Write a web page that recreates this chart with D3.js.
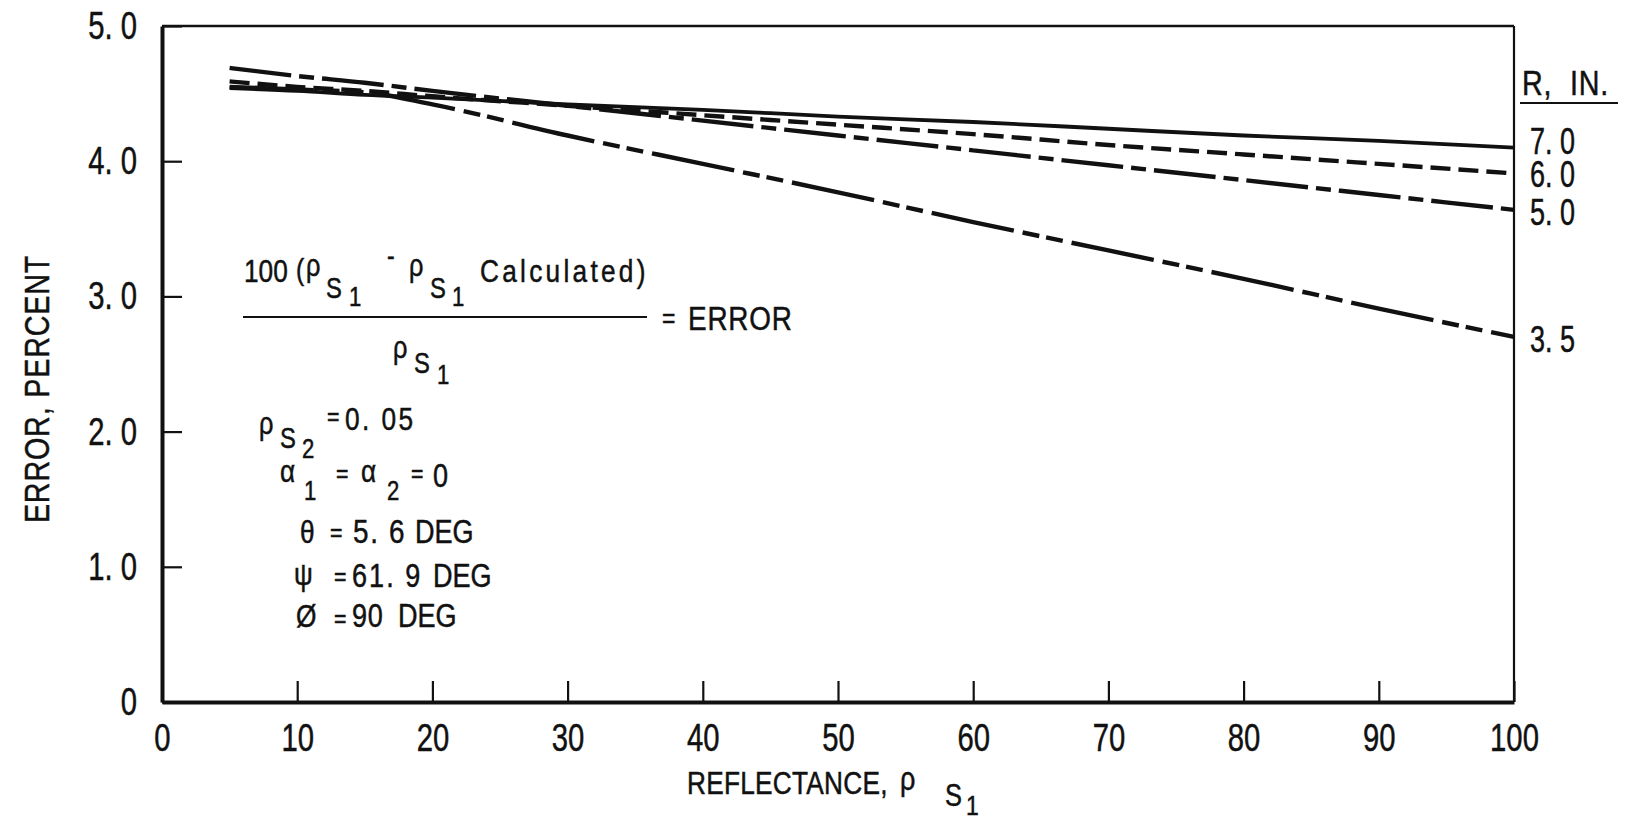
<!DOCTYPE html>
<html lang="en">
<head>
<meta charset="utf-8">
<title>Error vs reflectance</title>
<script src="https://d3js.org/d3.v7.min.js"></script>
<style>
  body { margin: 0; background: #fff; }
  svg { display: block; font-family: "Liberation Sans", Arial, sans-serif; fill: #111; }
  svg text { stroke: #111; stroke-width: 0.5px; }
</style>
</head>
<body>
<script>
// values
var reflectance = [5, 10, 15, 20, 30, 40, 50, 60, 70, 80, 90, 100];
var err70 = [4.54, 4.52, 4.49, 4.47, 4.42, 4.38, 4.33, 4.29, 4.24, 4.19, 4.15, 4.10];
var err60 = [4.59, 4.55, 4.52, 4.48, 4.41, 4.34, 4.27, 4.20, 4.12, 4.05, 3.98, 3.91];
var err50 = [4.69, 4.63, 4.58, 4.52, 4.41, 4.30, 4.19, 4.08, 3.97, 3.86, 3.75, 3.64];
var err35 = [4.55, 4.53, 4.51, 4.42, 4.19, 3.98, 3.77, 3.55, 3.34, 3.13, 2.91, 2.70];
var radii = ["7.0", "6.0", "5.0", "3.5"];
var xTicks = [0, 10, 20, 30, 40, 50, 60, 70, 80, 90, 100];
var yTicks = [0, 1, 2, 3, 4, 5];

var width = 1625, height = 823;
var plotLeft = 162, plotRight = 1514, plotTop = 26, plotBottom = 702;
var SX = 0.82;   // the lettering of the original is condensed
var NUM_SX = 0.75; // numbers are even narrower

var svg = d3.select("body").append("svg")
    .attr("width", width)
    .attr("height", height);

var x = d3.scaleLinear().domain([0, 100]).range([plotLeft, plotRight]);
var y = d3.scaleLinear().domain([0, 5]).range([plotBottom, plotTop]);

var spaced = function(s) { return s.replace(".", ". "); };

// frame (top and right are thinner)
svg.append("line").attr("x1", plotLeft).attr("x2", plotRight).attr("y1", plotTop).attr("y2", plotTop)
    .attr("stroke", "#111").attr("stroke-width", 2.5);
svg.append("line").attr("x1", plotRight).attr("x2", plotRight).attr("y1", plotTop).attr("y2", plotBottom)
    .attr("stroke", "#111").attr("stroke-width", 2.2);

// axes
var yAxis = svg.append("g")
    .attr("transform", "translate(" + plotLeft + ",0)")
    .call(d3.axisLeft(y)
        .tickValues(yTicks)
        .tickSizeInner(-20)
        .tickSizeOuter(0)
        .tickPadding(25)
        .tickFormat(function(d) { return d === 0 ? "0" : spaced(d3.format(".1f")(d)); }));

var xAxis = svg.append("g")
    .attr("transform", "translate(0," + plotBottom + ")")
    .call(d3.axisBottom(x)
        .tickValues(xTicks)
        .tickSizeInner(-21)
        .tickSizeOuter(0)
        .tickPadding(21)
        .tickFormat(d3.format("d")));

[yAxis, xAxis].forEach(function(a) {
    a.attr("font-family", null).attr("font-size", null);
    a.select(".domain").attr("stroke", "#111").attr("stroke-width", 4);
    a.selectAll(".tick line").attr("stroke", "#111").attr("stroke-width", 2.2);
    a.selectAll(".tick text")
        .attr("fill", "#111")
        .attr("transform", "scale(" + NUM_SX + ",1)")
        .style("font-size", "39px");
});
yAxis.selectAll(".tick text").attr("x", -25 / NUM_SX);

// curves
var series = [
    { r: radii[0], values: err70, dash: null, w: 3.8, nudge: -6 },
    { r: radii[1], values: err60, dash: "20,8", w: 4.4, nudge: 2 },
    { r: radii[2], values: err50, dash: "62,8,15,8", w: 4.4, nudge: 3 },
    { r: radii[3], values: err35, dash: "84,9,17,7,17,9", w: 4.4, nudge: 3 }
];

var line = d3.line()
    .x(function(d) { return x(d[0]); })
    .y(function(d) { return y(d[1]); })
    .curve(d3.curveMonotoneX);

svg.append("g").selectAll("path")
    .data(series)
    .enter().append("path")
    .attr("d", function(s) { return line(d3.zip(reflectance, s.values)); })
    .attr("fill", "none")
    .attr("stroke", "#111")
    .attr("stroke-width", function(s) { return s.w; })
    .attr("stroke-dasharray", function(s) { return s.dash; });

// text helper: condensed lettering placed at a baseline point
function put(px, py, str, size, spacing, sx) {
    return svg.append("text")
        .attr("transform", "translate(" + px + "," + py + ") scale(" + (sx || SX) + ",1)")
        .attr("letter-spacing", spacing || 0)
        .attr("xml:space", "preserve")
        .style("font-size", size + "px")
        .text(str);
}

// curve labels at right
series.forEach(function(s) {
    put(plotRight + 16, y(s.values[s.values.length - 1]) + s.nudge + 12, spaced(s.r), 36, 0, NUM_SX);
});

put(plotRight + 8, 95, "R,  IN.", 35, 1);
svg.append("line")
    .attr("x1", plotRight + 6).attr("x2", plotRight + 104).attr("y1", 103).attr("y2", 103)
    .attr("stroke", "#111").attr("stroke-width", 2);

// axis titles
svg.append("text")
    .attr("transform", "translate(49,389) rotate(-90) scale(" + SX + ",1)")
    .attr("text-anchor", "middle")
    .attr("letter-spacing", "1")
    .style("font-size", "35px")
    .text("ERROR, PERCENT");

put(687, 794, "REFLECTANCE,", 32, 0.3);
put(900, 790, "\u03c1", 33);
put(945, 806, "S", 31);
put(966, 815, "1", 28);

// formula
put(244, 282, "100", 32);
put(296, 280, "(", 30);
put(306, 276, "\u03c1", 31);
put(326, 298, "S", 29);
put(349, 306, "1", 27);
put(387, 265, "-", 28);
put(409, 276, "\u03c1", 31);
put(430, 298, "S", 29);
put(452, 306, "1", 27);
put(480, 282, "Calculated)", 32, 4);
svg.append("line").attr("x1", 243).attr("x2", 647).attr("y1", 317).attr("y2", 317)
    .attr("stroke", "#111").attr("stroke-width", 2.2);
put(662, 328, "=", 28);
put(688, 330, "ERROR", 34, 1);
put(393, 358, "\u03c1", 31);
put(414, 373, "S", 29);
put(437, 384, "1", 27);

// parameters
put(259, 434, "\u03c1", 31);
put(280, 448, "S", 29);
put(302, 458, "2", 27);
put(327, 425, "=", 26);
put(345, 430, "0. 05", 32, 3);

put(280, 482, "\u03b1", 32);
put(304, 500, "1", 27);
put(336, 482, "=", 26);
put(361, 482, "\u03b1", 32);
put(387, 500, "2", 27);
put(411, 482, "=", 26);
put(433, 487, "0", 33);

put(300, 543, "\u03b8", 32);
put(330, 541, "=", 26);
put(353, 543, "5. 6", 34, 2);
put(415, 543, "DEG", 33);

put(294, 585, "\u03c8", 32);
put(334, 585, "=", 26);
put(352, 587, "61. 9", 33, 2.5);
put(433, 587, "DEG", 33);

put(296, 627, "\u00d8", 32);
put(334, 627, "=", 26);
put(352, 627, "90", 33, 1);
put(398, 627, "DEG", 33);
</script>
</body>
</html>
